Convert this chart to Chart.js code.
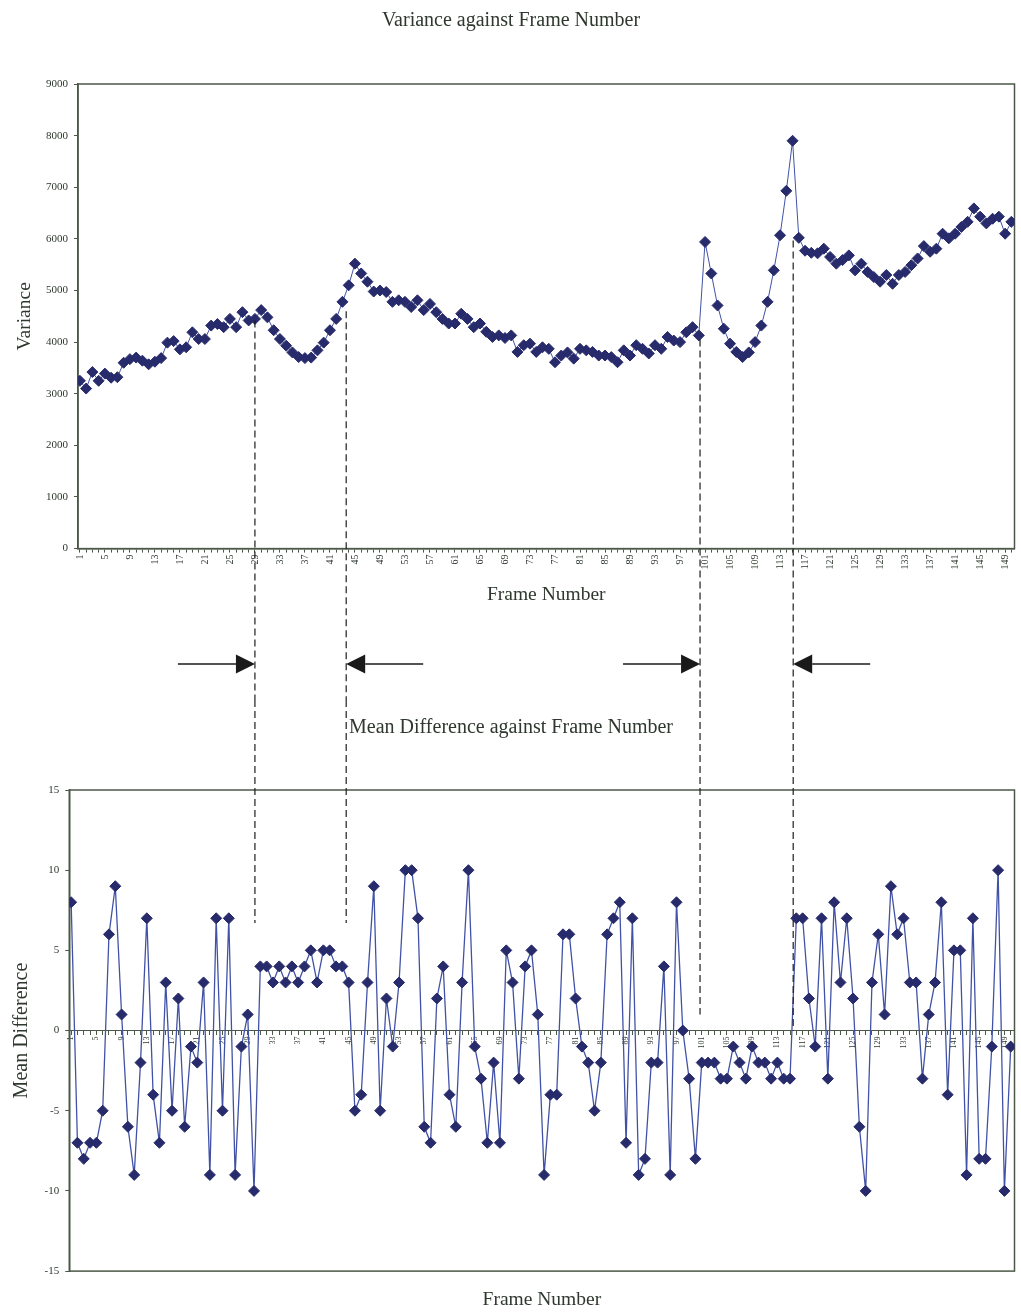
<!DOCTYPE html>
<html>
<head>
<meta charset="utf-8">
<title>Variance and Mean Difference against Frame Number</title>
<script src="https://cdn.jsdelivr.net/npm/chart.js@4.4.1/dist/chart.umd.min.js"></script>
<style>
  html, body { margin: 0; padding: 0; background: #fff; }
  #wrap { position: relative; width: 1021px; height: 1313px; }
  #chartVariance { position: absolute; left: 0; top: 0; }
  #chartMeanDiff { position: absolute; left: 0; top: 700px; }
</style>
</head>
<body>
<div id="wrap">
  <canvas id="chartVariance" width="1021" height="700"></canvas>
  <canvas id="chartMeanDiff" width="1021" height="613"></canvas>
</div>
<script>
// frame numbers (categories) and the ones that get a label
const frameNumbers = Array.from({ length: 150 }, (_, i) => i + 1);
const tickFrames = [1, 5, 9, 13, 17, 21, 25, 29, 33, 37, 41, 45, 49, 53, 57, 61, 65, 69, 73, 77,
    81, 85, 89, 93, 97, 101, 105, 109, 113, 117, 121, 125, 129, 133, 137, 141, 145, 149];

// variance per frame
const varianceValues = [
    3250, 3100, 3420, 3250, 3390, 3310, 3320, 3600, 3670, 3700,
    3640, 3570, 3620, 3690, 3990, 4020, 3860, 3900, 4190, 4060,
    4060, 4320, 4350, 4290, 4450, 4290, 4580, 4420, 4450, 4620,
    4480, 4230, 4060, 3930, 3800, 3710, 3690, 3700, 3840, 3990,
    4230, 4450, 4780, 5100, 5520, 5330, 5170, 4980, 5000, 4970,
    4780, 4810, 4780, 4680, 4810, 4620, 4740, 4580, 4450, 4360,
    4360, 4550, 4450, 4290, 4360, 4200, 4100, 4130, 4080, 4130,
    3810, 3940, 3970, 3810, 3900, 3870, 3610, 3740, 3800, 3680,
    3870, 3840, 3810, 3740, 3740, 3710, 3610, 3840, 3740, 3940,
    3870, 3780, 3940, 3870, 4100, 4030, 4000, 4190, 4290, 4130,
    5940, 5330, 4710, 4260, 3970, 3810, 3710, 3800, 4000, 4320,
    4780, 5390, 6070, 6930, 7900, 6020, 5770, 5730, 5720, 5810,
    5650, 5520, 5590, 5680, 5390, 5520, 5360, 5260, 5170, 5300,
    5130, 5300, 5360, 5490, 5620, 5860, 5750, 5810, 6100, 6010,
    6100, 6230, 6330, 6590, 6430, 6300, 6390, 6430, 6100, 6330
];

// mean difference per frame
const meanDiffValues = [
    8, -7, -8, -7, -7, -5, 6, 9, 1, -6,
    -9, -2, 7, -4, -7, 3, -5, 2, -6, -1,
    -2, 3, -9, 7, -5, 7, -9, -1, 1, -10,
    4, 4, 3, 4, 3, 4, 3, 4, 5, 3,
    5, 5, 4, 4, 3, -5, -4, 3, 9, -5,
    2, -1, 3, 10, 10, 7, -6, -7, 2, 4,
    -4, -6, 3, 10, -1, -3, -7, -2, -7, 5,
    3, -3, 4, 5, 1, -9, -4, -4, 6, 6,
    2, -1, -2, -5, -2, 6, 7, 8, -7, 7,
    -9, -8, -2, -2, 4, -9, 8, 0, -3, -8,
    -2, -2, -2, -3, -3, -1, -2, -3, -1, -2,
    -2, -3, -2, -3, -3, 7, 7, 2, -1, 7,
    -3, 8, 3, 7, 2, -6, -10, 3, 6, 1,
    9, 6, 7, 3, 3, -3, 1, 3, 8, -4,
    5, 5, -9, 7, -8, -8, -1, 10, -10, -1
];

// dashed guide lines joining the two charts
const dividerFrames = [29, 43.6, 100.2, 115.1];
const dividerTopValues = [4420, 4600, 4050, 5970];
const dividerBottomValues = [6.7, 6.7, 1, 0];
const arrowDirections = ["right", "left", "right", "left"];

const serif = "'Liberation Serif', 'Times New Roman', serif";
const inkColor = "#2e382e";
const frameColor = "#4b5848";
const lineColor = "#4152a6";
const markerColor = "#272b6b";

const plotFrame = {
    id: "plotFrame",
    beforeDatasetsDraw(chart) {
        const { ctx, chartArea: a } = chart;
        ctx.save();
        ctx.strokeStyle = frameColor;
        ctx.lineWidth = 1.5;
        ctx.strokeRect(a.left, a.top, a.right - a.left, a.bottom - a.top);
        ctx.restore();
    }
};

function dashedLine(ctx, x, y1, y2) {
    ctx.save();
    ctx.strokeStyle = "#1e1e1e";
    ctx.lineWidth = 1.2;
    ctx.setLineDash([7, 4]);
    ctx.beginPath();
    ctx.moveTo(x, y1);
    ctx.lineTo(x, y2);
    ctx.stroke();
    ctx.restore();
}

function drawArrow(ctx, tipX, y, dir) {
    const shaft = 77, headLen = 19, headHalf = 9.5;
    const s = dir === "right" ? -1 : 1;
    ctx.save();
    ctx.strokeStyle = "#1a1a1a";
    ctx.fillStyle = "#1a1a1a";
    ctx.lineWidth = 1.6;
    ctx.beginPath();
    ctx.moveTo(tipX + s * shaft, y);
    ctx.lineTo(tipX + s * headLen, y);
    ctx.stroke();
    ctx.beginPath();
    ctx.moveTo(tipX, y);
    ctx.lineTo(tipX + s * headLen, y - headHalf);
    ctx.lineTo(tipX + s * headLen, y + headHalf);
    ctx.closePath();
    ctx.fill();
    ctx.restore();
}

const varianceGuides = {
    id: "varianceGuides",
    afterDraw(chart) {
        const { ctx, scales } = chart;
        dividerFrames.forEach((f, i) => {
            const x = scales.x.getPixelForValue(f);
            dashedLine(ctx, x, scales.y.getPixelForValue(dividerTopValues[i]), chart.height);
            drawArrow(ctx, x, chart.height - 36, arrowDirections[i]);
        });
    }
};

// every frame gets a small tick mark, only every fourth one a label
function frameAxis(min, max, fontSize) {
    return {
        type: "linear",
        min: min,
        max: max,
        afterBuildTicks: (scale) => {
            scale.ticks = frameNumbers.map(v => ({ value: v }));
        },
        ticks: {
            autoSkip: false,
            minRotation: 90,
            maxRotation: 90,
            padding: 2,
            color: inkColor,
            font: (c) => ({ family: serif, size: tickFrames.includes(c.tick && c.tick.value) ? fontSize : 1 }),
            callback: (v) => tickFrames.includes(v) ? String(v) : ""
        },
        grid: { drawOnChartArea: false, tickLength: 4, color: frameColor },
        border: { color: frameColor, width: 1.5 }
    };
}

function seriesDataset(values, width) {
    return {
        data: frameNumbers.map((f, i) => ({ x: f, y: values[i] })),
        borderColor: lineColor,
        borderWidth: width,
        pointStyle: "rectRot",
        pointRadius: 5.5,
        pointBackgroundColor: markerColor,
        pointBorderColor: markerColor,
        pointBorderWidth: 1,
        tension: 0
    };
}

const varianceChart = new Chart(document.getElementById("chartVariance"), {
    type: "line",
    data: { datasets: [seriesDataset(varianceValues, 1)] },
    options: {
        responsive: false,
        animation: false,
        layout: { padding: { left: 6, right: 5, top: 0, bottom: 92 } },
        plugins: {
            legend: { display: false },
            tooltip: { enabled: false },
            title: {
                display: true,
                text: "Variance against Frame Number",
                color: inkColor,
                font: { family: serif, size: 20, weight: "normal" },
                padding: { top: 9, bottom: 51 }
            }
        },
        scales: {
            x: Object.assign(frameAxis(0.7, 150.5, 10), {
                title: {
                    display: true,
                    text: "Frame Number",
                    color: inkColor,
                    font: { family: serif, size: 19.5 },
                    padding: { top: 12, bottom: 1 }
                }
            }),
            y: {
                min: 0,
                max: 9000,
                ticks: {
                    stepSize: 1000,
                    color: inkColor,
                    padding: 6,
                    font: { family: serif, size: 11 },
                    callback: (v) => String(v)
                },
                grid: { drawOnChartArea: false, tickLength: 4, color: frameColor },
                border: { color: frameColor, width: 1.5 },
                title: {
                    display: true,
                    text: "Variance",
                    color: inkColor,
                    font: { family: serif, size: 19.5 },
                    padding: { top: 7, bottom: 3.6 }
                }
            }
        }
    },
    plugins: [plotFrame, varianceGuides]
});

const meanDiffGuides = {
    id: "meanDiffGuides",
    afterDraw(chart) {
        const { ctx, scales } = chart;
        dividerFrames.forEach((f, i) => {
            const x = varianceChart.scales.x.getPixelForValue(f);
            dashedLine(ctx, x, 0, scales.y.getPixelForValue(dividerBottomValues[i]));
        });
    }
};

new Chart(document.getElementById("chartMeanDiff"), {
    type: "line",
    data: { datasets: [Object.assign(seriesDataset(meanDiffValues, 1.3), { xAxisID: "x", yAxisID: "y" })] },
    options: {
        responsive: false,
        animation: false,
        layout: { padding: { left: 6, right: 5, top: 0, bottom: 1 } },
        plugins: {
            legend: { display: false },
            tooltip: { enabled: false },
            title: {
                display: true,
                text: "Mean Difference against Frame Number",
                color: inkColor,
                font: { family: serif, size: 20, weight: "normal" },
                padding: { top: 16, bottom: 50 }
            }
        },
        scales: {
            x: Object.assign(frameAxis(0.7, 150.6, 8), {
                position: { y: 0 },
                border: { color: frameColor, width: 1 }
            }),
            x2: {
                type: "linear",
                position: "bottom",
                min: 0.7,
                max: 150.6,
                ticks: { display: false },
                grid: { display: false, drawTicks: false },
                border: { display: false },
                title: {
                    display: true,
                    text: "Frame Number",
                    color: inkColor,
                    font: { family: serif, size: 19.5 },
                    padding: { top: 17.5, bottom: 0 }
                }
            },
            y: {
                min: -15,
                max: 15,
                ticks: {
                    stepSize: 5,
                    color: inkColor,
                    padding: 6,
                    font: { family: serif, size: 11 },
                    callback: (v) => String(v)
                },
                grid: { drawOnChartArea: false, tickLength: 4, color: frameColor },
                border: { color: frameColor, width: 1.5 },
                title: {
                    display: true,
                    text: "Mean Difference",
                    color: inkColor,
                    font: { family: serif, size: 20 },
                    padding: { top: 4, bottom: 4.6 }
                }
            }
        }
    },
    plugins: [plotFrame, meanDiffGuides]
});
</script>
</body>
</html>
